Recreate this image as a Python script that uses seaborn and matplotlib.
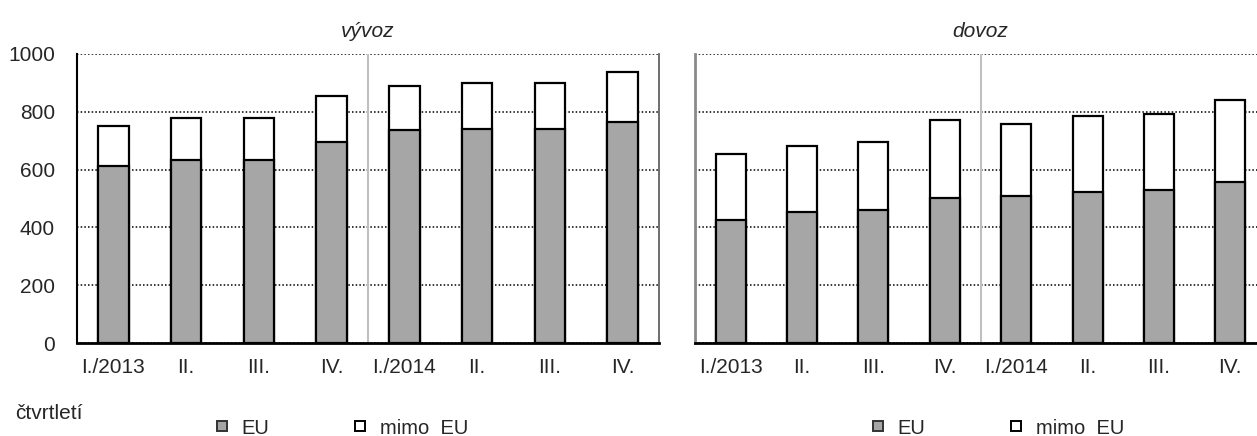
import pandas as pd
import matplotlib.pyplot as plt
import seaborn as sns
from matplotlib.lines import Line2D

# --- data ------------------------------------------------------
quarters = ["2013Q1", "2013Q2", "2013Q3", "2013Q4",
            "2014Q1", "2014Q2", "2014Q3", "2014Q4"]
tick_labels = ["I./2013", "II.", "III.", "IV.", "I./2014", "II.", "III.", "IV."]

export_eu = [612, 633, 633, 695, 738, 740, 740, 765]
export_non_eu = [139, 145, 145, 160, 151, 160, 160, 173]

import_eu = [426, 453, 460, 502, 509, 522, 529, 557]
import_non_eu = [228, 229, 235, 270, 249, 263, 263, 284]

titles = ["vývoz", "dovoz"]

# --- style -----------------------------------------------------
sns.set_style("white")
plt.rcParams["font.family"] = ["Liberation Sans", "DejaVu Sans"]
FS = 15
GREY = "#a6a6a6"

fig = plt.figure(figsize=(12.57, 4.36), dpi=100)
ax1 = fig.add_axes([77 / 1257, 93 / 436, 582 / 1257, 289 / 436])
ax2 = fig.add_axes([695 / 1257, 93 / 436, 571 / 1257, 289 / 436])

for ax, eu, non_eu, title in [(ax1, export_eu, export_non_eu, titles[0]),
                              (ax2, import_eu, import_non_eu, titles[1])]:
    df = pd.DataFrame({"q": quarters, "eu": eu, "non_eu": non_eu})
    df["total"] = df["eu"] + df["non_eu"]

    # total first (white part), EU on top of it (grey part)
    sns.barplot(data=df, x="q", y="total", order=quarters, color="white",
                saturation=1, edgecolor="black", linewidth=1.6, width=0.42,
                ax=ax, zorder=3)
    sns.barplot(data=df, x="q", y="eu", order=quarters, color=GREY,
                saturation=1, edgecolor="black", linewidth=1.6, width=0.42,
                ax=ax, zorder=4)

    ax.set_xlim(-0.5, 7.5)
    ax.set_ylim(0, 1000)
    ax.set_yticks(range(0, 1001, 200))
    ax.set_xticks(range(8))
    ax.set_xticklabels(tick_labels, fontsize=FS)
    ax.tick_params(axis="both", length=0, labelsize=FS)
    ax.tick_params(axis="x", pad=11)
    ax.tick_params(axis="y", pad=16)
    ax.set_xlabel("")
    ax.set_ylabel("")
    ax.yaxis.grid(True, color="black", linestyle=(0, (1, 1.4)), linewidth=1.1)
    ax.set_axisbelow(True)
    ax.axvline(3.5, color="#c0c0c0", linewidth=1.5, zorder=1)
    ax.set_title(title, fontsize=FS, style="italic", pad=12)

    ax.spines["top"].set_visible(False)
    ax.spines["bottom"].set_color("black")
    ax.spines["bottom"].set_linewidth(2)
    ax.spines["bottom"].set_zorder(5)

ax1.spines["left"].set_color("black")
ax1.spines["left"].set_linewidth(1.5)
ax1.spines["right"].set_color("#555555")
ax1.spines["right"].set_linewidth(1.2)

ax2.spines["left"].set_color("#8a8a8a")
ax2.spines["left"].set_linewidth(2)
ax2.spines["right"].set_visible(False)
ax2.tick_params(axis="y", labelleft=False)

# --- legends ---------------------------------------------------
handles = [
    Line2D([], [], linestyle="none", marker="s", markersize=6.5,
           markerfacecolor=GREY, markeredgecolor="#333333", markeredgewidth=1.4),
    Line2D([], [], linestyle="none", marker="s", markersize=6.5,
           markerfacecolor="white", markeredgecolor="black", markeredgewidth=1.4),
]
for cx in (342 / 1257, 998 / 1257):
    fig.legend(handles, ["EU", "mimo  EU"], loc="center",
               bbox_to_anchor=(cx, 1 - 428 / 436), ncol=2, frameon=False,
               fontsize=14.5, handlelength=0.6, handletextpad=0.67,
               columnspacing=4.2)

fig.text(15 / 1257, 1 - 413 / 436, "čtvrtletí", fontsize=FS,
         ha="left", va="center")

fig.savefig("out.png", dpi=100)
